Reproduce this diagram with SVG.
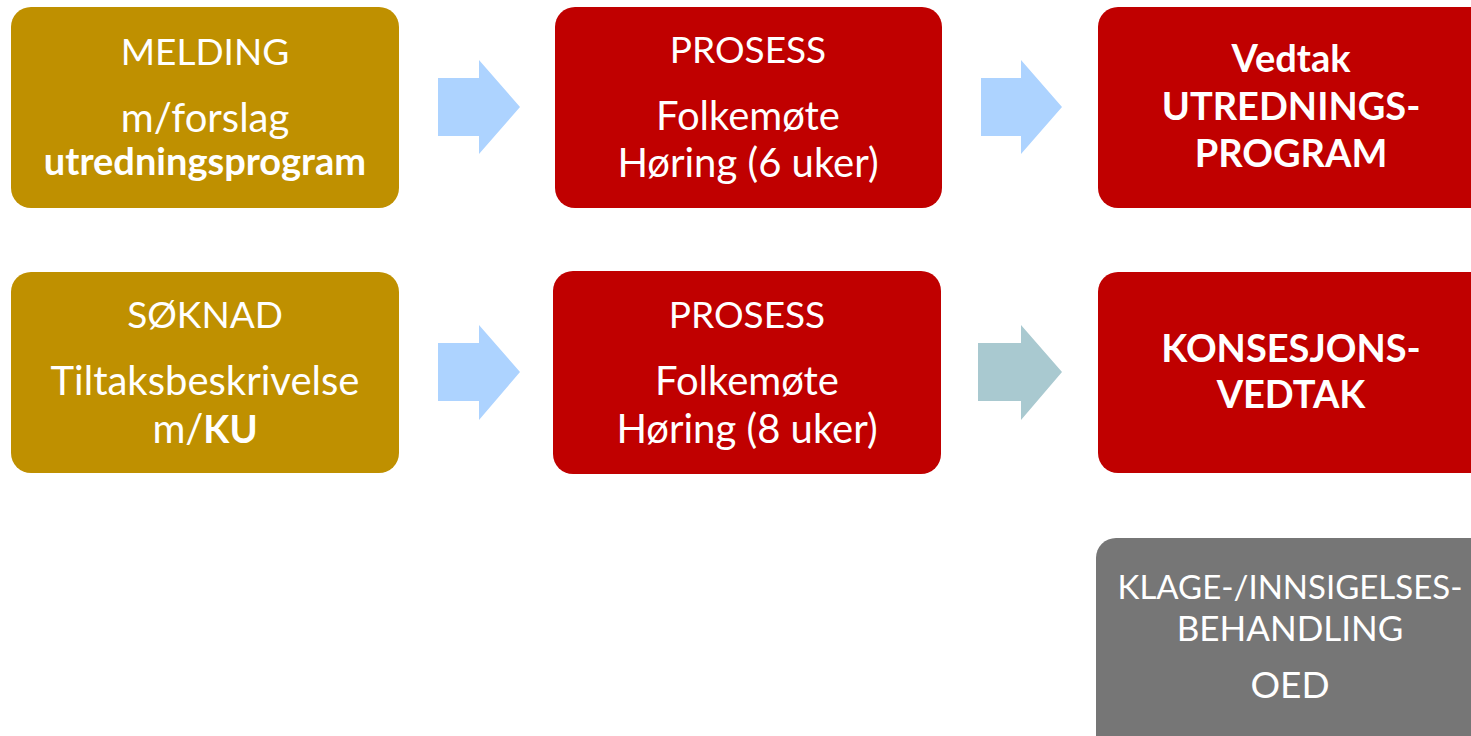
<svg xmlns="http://www.w3.org/2000/svg" width="1471" height="736" viewBox="0 0 1471 736">
<style>
.t{font-family:Lato,"Liberation Sans",sans-serif;font-size:40px;fill:#fff;text-anchor:middle}
.c{font-size:37px}
.k{font-size:33px}
.h{font-size:35px}
.b{font-weight:bold;font-size:38px}
.gold{fill:#BF9000}.red{fill:#C00000}.grey{fill:#767676}
.a1{fill:#ADD3FF}.a2{fill:#A9C9D0}
</style>
<rect width="1471" height="736" fill="#fff"/>
<g id="melding"><rect class="gold" x="11" y="7" width="388" height="201" rx="20"/>
<text class="t c" x="205" y="65">MELDING</text>
<text class="t" x="205" y="132">m/forslag</text>
<text class="t b" x="205" y="175">utredningsprogram</text></g>
<g id="prosess1"><rect class="red" x="555" y="7" width="387" height="201" rx="20"/>
<text class="t c" x="748" y="63">PROSESS</text>
<text class="t" x="748" y="130">Folkemøte</text>
<text class="t" x="748" y="177">Høring (6 uker)</text></g>
<g id="vedtak1"><rect class="red" x="1098" y="7" width="400" height="201" rx="20"/>
<text class="t b" x="1291" y="72">Vedtak</text>
<text class="t b" x="1291" y="120">UTREDNINGS-</text>
<text class="t b" x="1291" y="167">PROGRAM</text></g>
<g id="soknad"><rect class="gold" x="11" y="272" width="388" height="201" rx="20"/>
<text class="t c" x="205" y="328">SØKNAD</text>
<text class="t" x="205" y="395">Tiltaksbeskrivelse</text>
<text class="t" x="205" y="443">m/<tspan class="b">KU</tspan></text></g>
<g id="prosess2"><rect class="red" x="553" y="271" width="388" height="203" rx="20"/>
<text class="t c" x="747" y="328">PROSESS</text>
<text class="t" x="747" y="395">Folkemøte</text>
<text class="t" x="747" y="443">Høring (8 uker)</text></g>
<g id="vedtak2"><rect class="red" x="1098" y="272" width="400" height="201" rx="20"/>
<text class="t b" x="1291" y="362">KONSESJONS-</text>
<text class="t b" x="1291" y="408">VEDTAK</text></g>
<g id="klage"><rect class="grey" x="1096" y="538" width="400" height="220" rx="20"/>
<text class="t k" x="1290" y="599">KLAGE-/INNSIGELSES-</text>
<text class="t h" x="1290" y="641">BEHANDLING</text>
<text class="t c" x="1290" y="698">OED</text></g>
<g id="connectors">
<polygon class="a1" points="438,78 479,78 479,60 520,107 479,154 479,136 438,136"/>
<polygon class="a1" points="981,78 1021,78 1021,60 1062,107 1021,154 1021,136 981,136"/>
<polygon class="a1" points="438,343 479,343 479,325 520,372 479,420 479,401 438,401"/>
<polygon class="a2" points="978,343 1021,343 1021,325 1062,372 1021,420 1021,401 978,401"/>
</g>
</svg>
